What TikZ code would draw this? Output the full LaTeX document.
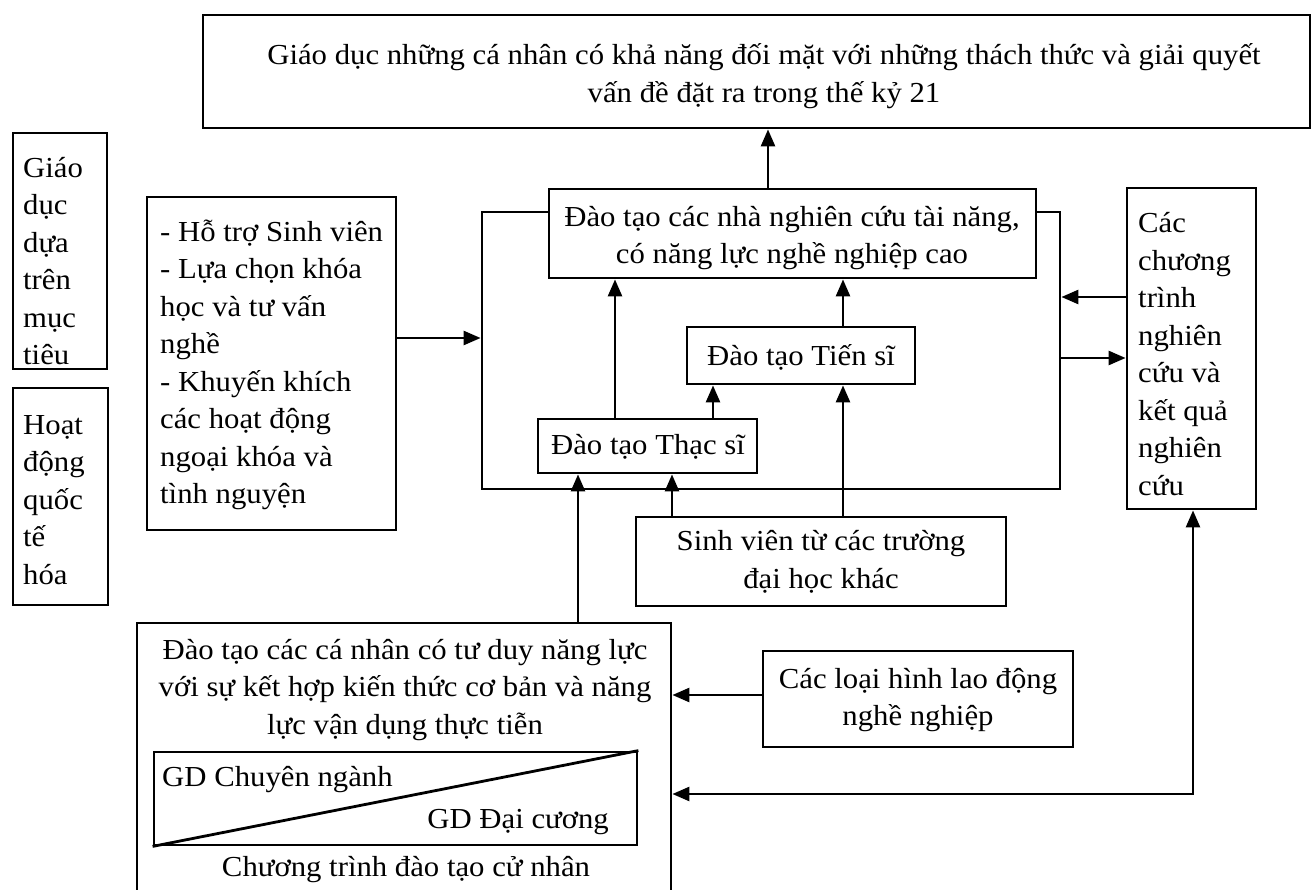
\documentclass[tikz,border=0pt]{standalone}
\usepackage{fontspec}
\setmainfont{Liberation Serif}[FakeStretch=1.06]
\usetikzlibrary{arrows.meta}
\begin{document}
\begin{tikzpicture}[x=1pt,y=-1pt,
  box/.style={draw, line width=2.8pt, inner sep=0, fill=white},
  arr/.style={line width=2.6pt, -{Triangle[length=17pt,width=14pt]}},
  arrtwo/.style={line width=2.6pt, {Triangle[length=17pt,width=14pt]}-{Triangle[length=17pt,width=14pt]}},
  txt/.style={inner sep=0, font=\fontsize{29}{37.5}\selectfont}]
\clip (0,0) rectangle (1314,890);
\fill[white] (0,0) rectangle (1314,890);
% boxes
\node[box, minimum width=1107, minimum height=113] (top) at (756.5,71.5) {};
\node[box, minimum width=94, minimum height=236] (goal) at (60,251) {};
\node[box, minimum width=95, minimum height=217] (intl) at (60.5,496.5) {};
\node[box, minimum width=249, minimum height=333] (support) at (271.5,363.5) {};
\node[box, minimum width=578, minimum height=277] (frame) at (771,350.5) {};
\node[box, minimum width=487, minimum height=89] (res) at (792.5,233.5) {};
\node[box, minimum width=228, minimum height=57] (phd) at (801,355.5) {};
\node[box, minimum width=219, minimum height=54] (ms) at (647.5,446) {};
\node[box, minimum width=370, minimum height=89] (other) at (821,561.5) {};
\node[box, minimum width=129, minimum height=321] (prog) at (1191.5,348.5) {};
\node[box, minimum width=310, minimum height=96] (labor) at (918,699) {};
\node[box, minimum width=534, minimum height=287] (bach) at (404,766.5) {};
\node[box, minimum width=483, minimum height=93] (inner) at (395.5,798.5) {};
\draw[line width=2.8pt] (inner.south west) -- (inner.north east);
% texts
\node[txt, align=center] (ttop) at (764,76) {Giáo dục những cá nhân có khả năng đối mặt với những thách thức và giải quyết\\vấn đề đặt ra trong thế kỷ 21};
\node[txt, align=left, anchor=west] (tgoal) at (23,261) {Giáo\\dục\\dựa\\trên\\mục\\tiêu};
\node[txt, align=left, anchor=west] (tintl) at (23,500) {Hoạt\\động\\quốc\\tế\\hóa};
\node[txt, align=left, anchor=west] (tsupport) at (160,365) {- Hỗ trợ Sinh viên\\- Lựa chọn khóa\\học và tư vấn\\nghề\\- Khuyến khích\\các hoạt động\\ngoại khóa và\\tình nguyện};
\node[txt, align=center] (tres) at (792,238) {Đào tạo các nhà nghiên cứu tài năng,\\có năng lực nghề nghiệp cao};
\node[txt] (tphd) at (801,357) {Đào tạo Tiến sĩ};
\node[txt] (tms) at (648,447) {Đào tạo Thạc sĩ};
\node[txt, align=center] (tother) at (821,562) {Sinh viên từ các trường\\đại học khác};
\node[txt, align=left, anchor=west] (tprog) at (1138,354) {Các\\chương\\trình\\nghiên\\cứu và\\kết quả\\nghiên\\cứu};
\node[txt, align=center] (tlabor) at (918,700) {Các loại hình lao động\\nghề nghiệp};
\node[txt, align=center] (tbach) at (405,690) {Đào tạo các cá nhân có tư duy năng lực\\với sự kết hợp kiến thức cơ bản và năng\\lực vận dụng thực tiễn};
\node[txt, anchor=west] (tspec) at (162,780) {GD Chuyên ngành};
\node[txt, anchor=east] (tgen) at (609,822) {GD Đại cương};
\node[txt] (tprogname) at (406,870) {Chương trình đào tạo cử nhân};
% connectors
\coordinate (xa) at (768,0);
\coordinate (xb) at (615,0);
\coordinate (xc) at (843,0);
\coordinate (xd) at (713,0);
\coordinate (xe) at (672,0);
\coordinate (xf) at (578,0);
\coordinate (xg) at (1193,0);
\coordinate (ya) at (0,338);
\coordinate (yb) at (0,297);
\coordinate (yc) at (0,358);
\coordinate (yd) at (0,695);
\coordinate (ye) at (0,794);
\draw[arr] (res.north -| xa) -- (top.south -| xa);
\draw[arr] (support.east |- ya) -- (frame.west |- ya);
\draw[arr] (ms.north -| xb) -- (res.south -| xb);
\draw[arr] (phd.north -| xc) -- (res.south -| xc);
\draw[arr] (other.north -| xc) -- (phd.south -| xc);
\draw[arr] (ms.north -| xd) -- (phd.south -| xd);
\draw[arr] (other.north -| xe) -- (ms.south -| xe);
\draw[arr] (bach.north -| xf) -- (ms.south -| xf);
\draw[arr] (prog.west |- yb) -- (frame.east |- yb);
\draw[arr] (frame.east |- yc) -- (prog.west |- yc);
\draw[arr] (labor.west |- yd) -- (bach.east |- yd);
\draw[arrtwo] (prog.south -| xg) |- (bach.east |- ye);
\end{tikzpicture}
\end{document}
